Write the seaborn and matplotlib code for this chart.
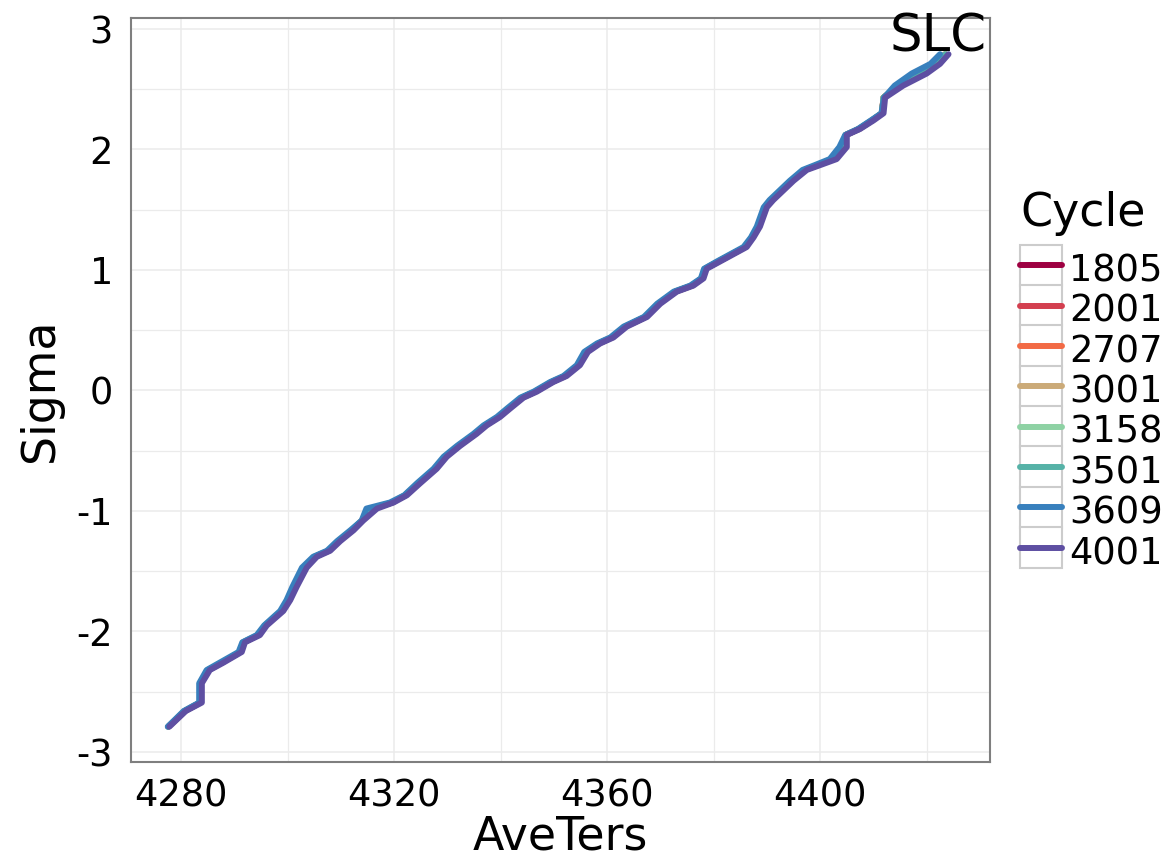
import pandas as pd
import matplotlib.pyplot as plt
import seaborn as sns
from matplotlib.lines import Line2D
from matplotlib.patches import Rectangle
from matplotlib.legend_handler import HandlerLine2D
from matplotlib.ticker import MultipleLocator

cycles = ['1805', '2001', '2707', '3001', '3158', '3501', '3609', '4001']
colors = ['#9E0142', '#D33F4F', '#F26A45', '#CBAA78', '#8ED2A4', '#56B2A7', '#3880BD', '#5E4FA2']

sigma = [-2.79, -2.66, -2.59, -2.43, -2.32, -2.26, -2.17, -2.09, -2.03, -1.95,
         -1.83, -1.74, -1.63, -1.47, -1.38, -1.33, -1.25, -1.16, -1.08, -0.98,
         -0.93, -0.87, -0.77, -0.65, -0.55, -0.46, -0.36, -0.29, -0.22, -0.15,
         -0.06, -0.01, 0.07, 0.12, 0.21, 0.32, 0.39, 0.44, 0.53, 0.61,
         0.72, 0.82, 0.87, 0.93, 1.01, 1.07, 1.13, 1.19, 1.27, 1.36,
         1.52, 1.58, 1.66, 1.74, 1.83, 1.87, 1.92, 2.02, 2.12, 2.17,
         2.24, 2.30, 2.43, 2.53, 2.63, 2.71, 2.79]

ave_4001 = [4277.8, 4280.9, 4283.9, 4283.9, 4285.4, 4287.9, 4291.4, 4292.0, 4294.8, 4296.1,
            4299.2, 4300.5, 4301.7, 4303.6, 4305.5, 4308.0, 4309.9, 4312.4, 4314.2, 4316.8,
            4319.9, 4322.4, 4324.9, 4328.0, 4329.9, 4332.4, 4335.5, 4337.4, 4339.9, 4341.8,
            4344.3, 4346.8, 4349.9, 4352.4, 4354.9, 4356.4, 4358.7, 4361.2, 4363.7, 4367.5,
            4370.0, 4373.1, 4376.2, 4378.1, 4378.7, 4381.2, 4383.7, 4386.2, 4387.5, 4388.7,
            4390.0, 4391.2, 4393.1, 4395.0, 4397.5, 4400.0, 4403.1, 4405.0, 4405.0, 4407.5,
            4410.0, 4411.9, 4412.2, 4415.6, 4420.0, 4422.5, 4424.1]

ave_3609 = [4277.5, 4280.5, 4283.4, 4283.4, 4284.8, 4287.2, 4290.8, 4291.5, 4294.2, 4295.6,
            4298.6, 4299.8, 4300.9, 4302.7, 4304.8, 4307.4, 4309.3, 4311.8, 4313.9, 4314.8,
            4319.2, 4321.9, 4324.3, 4327.4, 4329.3, 4331.8, 4334.9, 4336.8, 4339.3, 4341.2,
            4343.7, 4346.2, 4349.3, 4351.8, 4354.3, 4355.7, 4358.1, 4360.6, 4363.1, 4366.9,
            4369.4, 4372.5, 4375.6, 4377.6, 4378.2, 4380.6, 4383.1, 4385.6, 4387.0, 4388.1,
            4389.4, 4390.5, 4392.4, 4394.3, 4396.7, 4399.0, 4401.8, 4403.6, 4404.7, 4407.1,
            4409.5, 4411.5, 4412.0, 4414.0, 4417.2, 4420.7, 4422.5]

# the other six cycles lie under 3609/4001 and can't be told apart in the picture
ave_rest = [4277.6, 4280.7, 4283.6, 4283.6, 4285.1, 4287.6, 4291.1, 4291.7, 4294.5, 4295.8,
            4298.9, 4300.2, 4301.3, 4303.1, 4305.1, 4307.7, 4309.6, 4312.1, 4314.0, 4315.9,
            4319.6, 4322.1, 4324.6, 4327.7, 4329.6, 4332.1, 4335.2, 4337.1, 4339.6, 4341.5,
            4344.0, 4346.5, 4349.6, 4352.1, 4354.6, 4356.0, 4358.4, 4360.9, 4363.4, 4367.2,
            4369.7, 4372.8, 4375.9, 4377.8, 4378.4, 4380.9, 4383.4, 4385.9, 4387.2, 4388.4,
            4389.7, 4390.8, 4392.7, 4394.6, 4397.1, 4399.5, 4402.4, 4404.3, 4404.8, 4407.3,
            4409.7, 4411.6, 4411.9, 4414.8, 4418.8, 4421.6, 4423.5]

rows = []
for c in cycles:
    vals = ave_4001 if c == '4001' else ave_3609 if c == '3609' else ave_rest
    for a, s in zip(vals, sigma):
        rows.append({'Cycle': c, 'AveTers': a, 'Sigma': s})
df = pd.DataFrame(rows)


class BoxedLine(HandlerLine2D):
    # ggplot style legend key: line inside a grey bordered box
    def create_artists(self, legend, orig_handle, xdescent, ydescent, width, height, fontsize, trans):
        mid = (height - ydescent) / 2
        box_h = 1.12 * fontsize
        box = Rectangle((-xdescent, mid - box_h / 2), width, box_h, facecolor='white',
                        edgecolor='#CCCCCC', linewidth=1.5, transform=trans)
        arts = super().create_artists(legend, orig_handle, xdescent, ydescent, width, height, fontsize, trans)
        return [box] + list(arts)


sns.set_style('white')
plt.rcParams['font.family'] = ['DejaVu Sans']
plt.rcParams['axes.unicode_minus'] = False
plt.rcParams['text.color'] = 'black'
plt.rcParams['axes.labelcolor'] = 'black'

fig = plt.figure(figsize=(11.75, 8.61), dpi=100)
ax = fig.add_axes([0.1115, 0.115, 0.7311, 0.864])

sns.lineplot(data=df, x='AveTers', y='Sigma', hue='Cycle', hue_order=cycles, palette=colors,
             estimator=None, sort=False, linewidth=4.3, legend=False, ax=ax)

ax.set_xlim(4270.6, 4431.9)
ax.set_ylim(-3.083, 3.09)
ax.set_xticks([4280, 4320, 4360, 4400])
ax.set_yticks([-3, -2, -1, 0, 1, 2, 3])
ax.xaxis.set_minor_locator(MultipleLocator(20))
ax.yaxis.set_minor_locator(MultipleLocator(0.5))
ax.grid(which='major', color='#EBEBEB', linewidth=1.1)
ax.grid(which='minor', color='#EBEBEB', linewidth=0.9)
ax.set_axisbelow(True)
ax.tick_params(which='minor', length=0)
ax.tick_params(axis='x', which='major', length=7, width=1.4, color='#333333',
               labelcolor='black', labelsize=26.5, pad=4)
ax.tick_params(axis='y', which='major', length=7, width=1.4, color='#333333',
               labelcolor='black', labelsize=26.5, pad=6)
for sp in ax.spines.values():
    sp.set_color('#7F7F7F')
    sp.set_linewidth(1.5)

ax.set_xlabel('AveTers', fontsize=33, labelpad=0)
ax.set_ylabel('Sigma', fontsize=33, labelpad=10)

ax.text(4422.2, 2.93, 'SLC', fontsize=37, ha='center', va='center')

handles = [Line2D([], [], color=col, linewidth=4.3) for col in colors]
leg = ax.legend(handles, cycles, title='Cycle', loc='center left', bbox_to_anchor=(0.868, 0.557),
                bbox_transform=fig.transFigure, frameon=False, fontsize=26.5, title_fontsize=33,
                handlelength=1.14, handleheight=1.3, handletextpad=0.2, labelspacing=0.0,
                borderpad=0, borderaxespad=0, alignment='left',
                handler_map={Line2D: BoxedLine(marker_pad=0.11)})
leg._legend_box.sep = 9.5

plt.savefig('out.png', dpi=100)
